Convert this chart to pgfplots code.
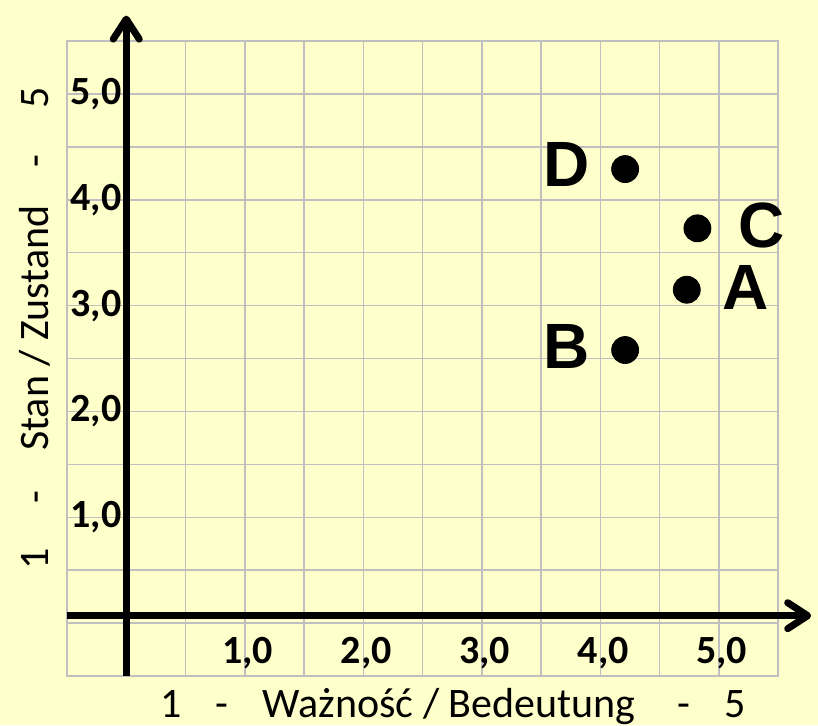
\documentclass[border=0pt]{standalone}
\usepackage{fontspec}
\setmainfont{Carlito}
\newfontfamily\arialfont{Liberation Sans}
\usepackage{pgfplots}
\pgfplotsset{compat=1.18}
\usetikzlibrary{arrows.meta}
\definecolor{bgyellow}{HTML}{FFFFCC}
\definecolor{gridgray}{HTML}{BFBFBF}
\begin{document}
\begin{tikzpicture}
% page background (818 x 725 px at 0.5pt per px)
\fill[bgyellow] (-33.5pt,-24.5pt) rectangle (375.5pt,338pt);
\begin{axis}[
    scale only axis,
    width=355.5pt, height=317.5pt,
    xmin=-0.5, xmax=5.5, ymin=-0.5, ymax=5.5,
    xtick={1,2,3,4,5}, ytick={1,2,3,4,5},
    xticklabels={{1,0},{2,0},{3,0},{4,0},{5,0}},
    yticklabels={{1,0},{2,0},{3,0},{4,0},{5,0}},
    minor xtick={-0.5,0,0.5,1,1.5,2,2.5,3,3.5,4,4.5,5,5.5},
    minor ytick={-0.5,0,0.5,1,1.5,2,2.5,3,3.5,4,4.5,5,5.5},
    grid=both,
    major grid style={draw=gridgray, line width=0.75pt},
    minor grid style={draw=gridgray, line width=0.75pt},
    major tick length=0pt, minor tick length=0pt,
    axis line style={draw=gridgray, line width=0.75pt},
    ticklabel style={font=\fontsize{20}{20}\selectfont\bfseries},
    xticklabel style={anchor=center, yshift=11.5pt, xshift=1.5pt},
    yticklabel style={anchor=center, xshift=14.5pt},
    xlabel={1\hspace{17pt}-\hspace{17pt}Ważność / Bedeutung\hspace{21pt}-\hspace{17pt}5},
    ylabel={1\hspace{22pt}-\hspace{20pt}Stan / Zustand\hspace{19pt}-\hspace{23pt}5},
    label style={font=\fontsize{21}{21}\selectfont},
    xlabel style={at={(axis description cs:0.543,-0.048)}, anchor=center},
    ylabel style={at={(axis description cs:-0.045,0.548)}, anchor=center},
    clip=false,
]
% black coordinate axes with open arrow heads
\draw[line width=3.5pt, -{Straight Barb[length=10pt, width=13pt, line cap=round, line join=round]}]
    (axis cs:-0.5,0.07) -- (axis cs:5.78,0.07);
\draw[line width=3.5pt, -{Straight Barb[length=10pt, width=13pt, line cap=round, line join=round]}]
    (axis cs:0,-0.5) -- (axis cs:0,5.74);

\addplot[only marks, mark=*, mark size=6.75pt, black]
    coordinates {(4.73,3.15) (4.21,2.58) (4.82,3.73) (4.21,4.29)};

\begin{scope}[font=\arialfont\bfseries\fontsize{32}{32}\selectfont]
\node at (axis cs:5.23,3.17) {A};
\node at (axis cs:3.72,2.61) {B};
\node at (axis cs:5.36,3.76) {C};
\node at (axis cs:3.72,4.33) {D};
\end{scope}
\end{axis}
\pgfresetboundingbox
\path[use as bounding box] (-33.5pt,-24.5pt) rectangle (375.5pt,338pt);
\end{tikzpicture}
\end{document}
